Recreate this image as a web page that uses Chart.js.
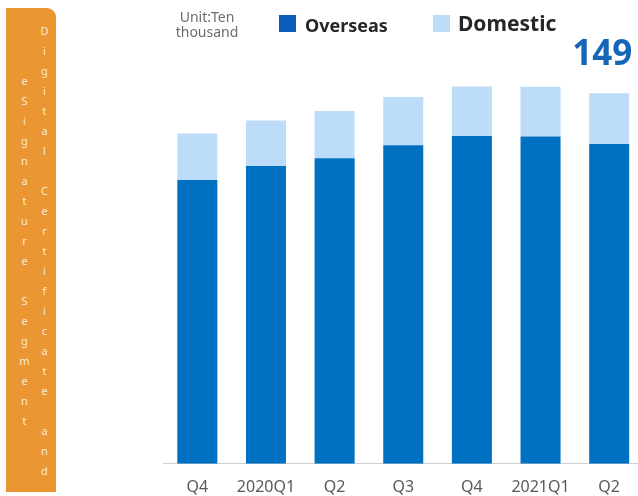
<!DOCTYPE html>
<html>
<head>
<meta charset="utf-8">
<script src="https://cdn.jsdelivr.net/npm/chart.js@4.4.0/dist/chart.umd.min.js"></script>
<style>
  html, body { margin: 0; padding: 0; background: #fff; overflow: hidden; }
  body { width: 638px; height: 496px; position: relative; font-family: "Noto Sans", sans-serif; }
  #wrap { position: absolute; left: 0; top: 0; width: 645px; height: 511px; }
  #banner {
    position: absolute; left: 6px; top: 8px; width: 48px; height: 468px;
    padding: 11px 2px 5px 0; background: #EA9632; border-top-right-radius: 9px;
    writing-mode: vertical-rl; text-orientation: upright; text-align: center;
    font-size: 11px; line-height: 20px; letter-spacing: 5px; color: rgba(255,255,255,0.82);
  }
  #unit {
    position: absolute; left: 160px; top: 9px; width: 94px; text-align: center;
    font-size: 14px; line-height: 15px; color: #6b6b6b;
  }
  .lg-box { position: absolute; top: 15px; width: 17px; height: 17px; }
  .lg-text { position: absolute; font-weight: bold; color: #262626; line-height: 1; white-space: nowrap; }
</style>
</head>
<body>
<div id="wrap"><canvas id="segChart"></canvas></div>
<div id="banner">Digital Certificate and eSignature Segment</div>
<div id="unit">Unit:Ten<br>thousand</div>
<div id="legend"></div>
<script>
// quarters on the x axis
var quarters = ["Q4", "2020Q1", "Q2", "Q3", "Q4", "2021Q1", "Q2"];
// ten thousand certificates
var overseas = [114.1, 119.8, 122.9, 128.1, 131.8, 131.6, 128.6];
var domestic = [18.8, 18.3, 19.0, 19.4, 20.0, 20.1, 20.4];

var seriesNames = ["Overseas", "Domestic"];
var seriesColors = ["#0070C0", "#BDDCFA"];
var legendBoxColors = ["#0A5CB8", "#BDDCFA"];

// html legend, the two items use different sizes like the original slide
var legendSpots = [
    { box: 279, text: 305, size: 18, top: 16 },
    { box: 433, text: 458, size: 21, top: 13.4 },
];
var legendEl = document.getElementById("legend");
seriesNames.forEach(function (name, i) {
    var spot = legendSpots[i];
    var box = document.createElement("div");
    box.className = "lg-box";
    box.style.left = spot.box + "px";
    box.style.background = legendBoxColors[i];
    var txt = document.createElement("div");
    txt.className = "lg-text";
    txt.style.left = spot.text + "px";
    txt.style.top = spot.top + "px";
    txt.style.fontSize = spot.size + "px";
    txt.textContent = name;
    legendEl.appendChild(box);
    legendEl.appendChild(txt);
});

// total of the latest quarter written above its bar
const lastTotalLabel = {
    id: "lastTotalLabel",
    afterDatasetsDraw(chart) {
        const idx = quarters.length - 1;
        const topMeta = chart.getDatasetMeta(chart.data.datasets.length - 1);
        const bar = topMeta.data[idx];
        const total = overseas[idx] + domestic[idx];
        const c = chart.ctx;
        c.save();
        c.font = "bold 35px 'Noto Sans', sans-serif";
        c.fillStyle = "#1565B8";
        c.textAlign = "right";
        c.textBaseline = "alphabetic";
        c.fillText(Math.round(total), bar.x + bar.width / 2 + 3, bar.y - 28);
        c.restore();
    },
};

let ctx = document.getElementById("segChart").getContext("2d");
var segChart = new Chart(ctx, {
    type: "bar",
    data: {
        labels: quarters,
        datasets: [
            {
                label: seriesNames[0],
                data: overseas,
                backgroundColor: seriesColors[0],
                barPercentage: 0.583,
                categoryPercentage: 1,
            },
            {
                label: seriesNames[1],
                data: domestic,
                backgroundColor: seriesColors[1],
                barPercentage: 0.583,
                categoryPercentage: 1,
            },
        ],
    },
    plugins: [lastTotalLabel],
    options: {
        responsive: true,
        maintainAspectRatio: false,
        animation: false,
        layout: {
            padding: { left: 163, right: 1.5, top: 66, bottom: 0 },
        },
        scales: {
            x: {
                stacked: true,
                grid: { display: false, drawTicks: false },
                border: { display: true, color: "#d0d0d0", width: 1 },
                ticks: {
                    color: "#595959",
                    padding: 14,
                    font: { family: "'Noto Sans', sans-serif", size: 16 },
                },
            },
            y: {
                stacked: true,
                display: false,
                min: 0,
                max: 160,
            },
        },
        plugins: {
            legend: { display: false },
            tooltip: { enabled: false },
        },
    },
});
</script>
</body>
</html>
